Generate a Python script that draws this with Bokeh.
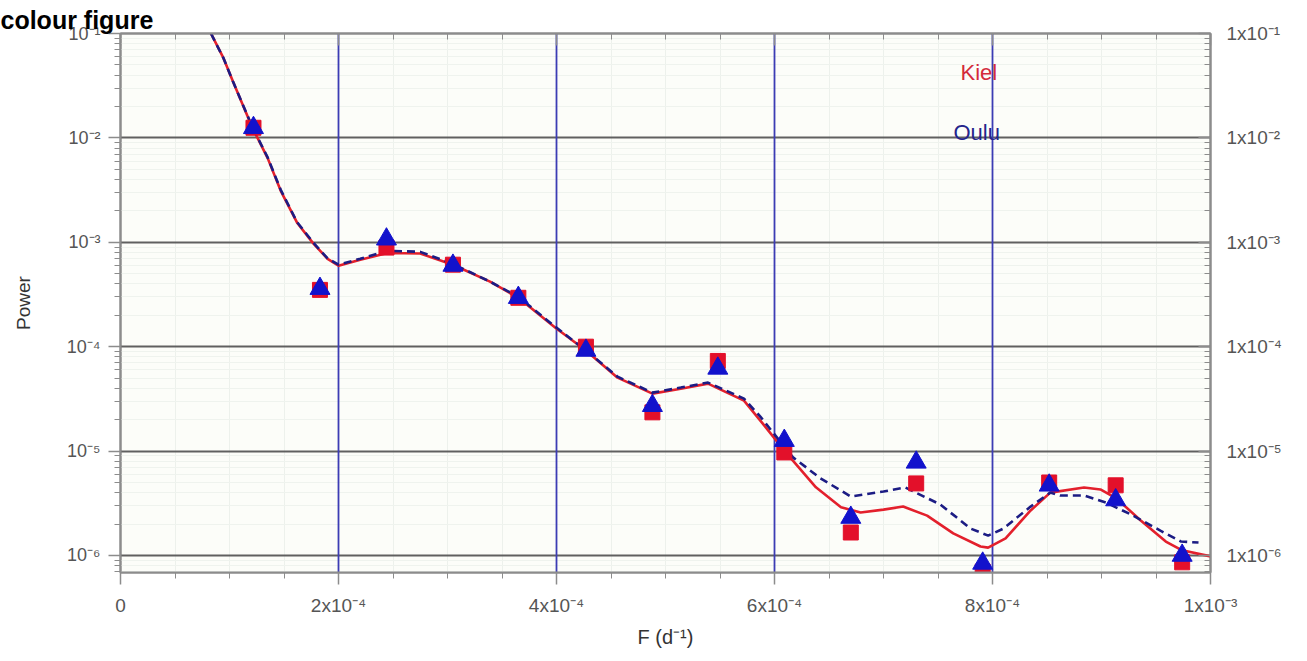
from bokeh.plotting import figure
from bokeh.models import (LogAxis, LinearAxis, FixedTicker, Label, Range1d,
                          ColumnDataSource, Grid)
from bokeh.embed import file_html
from bokeh.resources import INLINE

# ---------------- data ----------------
freq = [1.22e-4, 1.83e-4, 2.44e-4, 3.05e-4, 3.65e-4, 4.27e-4, 4.88e-4, 5.48e-4,
        6.09e-4, 6.70e-4, 7.30e-4, 7.91e-4, 8.52e-4, 9.13e-4, 9.74e-4]
kiel_pts = [1.25e-2, 3.5e-4, 8.9e-4, 6.1e-4, 2.94e-4, 1.0e-4, 2.35e-5, 7.3e-5,
            9.7e-6, 1.66e-6, 4.9e-6, 7.0e-7, 5.0e-6, 4.7e-6, 8.6e-7]
oulu_pts = [1.25e-2, 3.6e-4, 1.07e-3, 6.0e-4, 2.95e-4, 9.2e-5, 2.72e-5, 6.2e-5,
            1.26e-5, 2.31e-6, 7.8e-6, 8.4e-7, 4.7e-6, 3.4e-6, 1.0e-6]

kiel_fx = [0.83e-4, 0.945e-4, 1.03e-4, 1.21e-4, 1.35e-4, 1.47e-4, 1.62e-4,
           1.77e-4, 1.90e-4, 2.00e-4, 2.20e-4, 2.45e-4, 2.75e-4, 3.05e-4,
           3.39e-4, 3.65e-4, 3.99e-4, 4.27e-4, 4.56e-4, 4.88e-4, 5.14e-4,
           5.39e-4, 5.72e-4, 5.87e-4, 6.09e-4, 6.38e-4, 6.61e-4, 6.79e-4,
           7.00e-4, 7.18e-4, 7.40e-4, 7.64e-4, 7.89e-4, 7.96e-4, 8.12e-4,
           8.35e-4, 8.53e-4, 8.84e-4, 8.99e-4, 9.14e-4, 9.36e-4, 9.59e-4,
           9.74e-4, 1.0e-3]
kiel_fit = [0.1, 5.8e-2, 3.5e-2, 1.25e-2, 6.4e-3, 3.11e-3, 1.54e-3,
            9.7e-4, 6.95e-4, 5.96e-4, 6.8e-4, 7.9e-4, 7.8e-4, 6.1e-4,
            4.2e-4, 2.94e-4, 1.52e-4, 9.2e-5, 5.05e-5, 3.55e-5, 3.96e-5,
            4.43e-5, 3.04e-5, 1.96e-5, 1.01e-5, 4.5e-6, 2.9e-6, 2.58e-6,
            2.75e-6, 2.94e-6, 2.41e-6, 1.63e-6, 1.22e-6, 1.19e-6, 1.46e-6,
            2.7e-6, 4.0e-6, 4.48e-6, 4.29e-6, 3.5e-6, 2.16e-6, 1.36e-6,
            1.12e-6, 9.8e-7]

oulu_fx = [0.83e-4, 0.945e-4, 1.03e-4, 1.21e-4, 1.35e-4, 1.47e-4, 1.62e-4,
           1.77e-4, 1.90e-4, 2.00e-4, 2.20e-4, 2.45e-4, 2.75e-4, 3.05e-4,
           3.39e-4, 3.65e-4, 3.99e-4, 4.27e-4, 4.56e-4, 4.88e-4, 5.14e-4,
           5.39e-4, 5.72e-4, 5.87e-4, 6.09e-4, 6.17e-4, 6.42e-4, 6.70e-4,
           7.00e-4, 7.20e-4, 7.52e-4, 7.80e-4, 7.96e-4, 8.10e-4, 8.35e-4,
           8.53e-4, 8.62e-4, 8.84e-4, 9.04e-4, 9.27e-4, 9.54e-4, 9.73e-4,
           9.89e-4]
oulu_fit = [0.1, 5.8e-2, 3.5e-2, 1.27e-2, 6.5e-3, 3.18e-3, 1.56e-3,
            9.9e-4, 7.0e-4, 6.1e-4, 6.95e-4, 8.3e-4, 8.1e-4, 6.2e-4,
            4.2e-4, 3.0e-4, 1.55e-4, 9.2e-5, 5.16e-5, 3.63e-5, 4.06e-5,
            4.53e-5, 3.18e-5, 2.14e-5, 1.1e-5, 8.7e-6, 5.5e-6, 3.67e-6,
            4.1e-6, 4.48e-6, 3.08e-6, 1.81e-6, 1.55e-6, 1.81e-6, 2.94e-6,
            4.0e-6, 3.75e-6, 3.75e-6, 3.21e-6, 2.47e-6, 1.73e-6, 1.36e-6,
            1.33e-6]

x_ticks = [0, 2e-4, 4e-4, 6e-4, 8e-4, 1e-3]
x_labels = ["0", "2x10\u207b\u2074", "4x10\u207b\u2074", "6x10\u207b\u2074",
            "8x10\u207b\u2074", "1x10\u207b\u00b3"]
y_ticks = [1e-6, 1e-5, 1e-4, 1e-3, 1e-2, 1e-1]
y_left_labels = ["10\u207b\u2076", "10\u207b\u2075", "10\u207b\u2074",
                 "10\u207b\u00b3", "10\u207b\u00b2", "10\u207b\u00b9"]
y_right_labels = ["1x10\u207b\u2076", "1x10\u207b\u2075", "1x10\u207b\u2074",
                  "1x10\u207b\u00b3", "1x10\u207b\u00b2", "1x10\u207b\u00b9"]

# ---------------- figure ----------------
FONT = "Liberation Sans"
p = figure(width=1300, height=655, output_backend="svg", toolbar_location=None,
           title="colour figure",
           x_range=Range1d(0, 1e-3), y_range=Range1d(6.87e-7, 0.1),
           y_axis_type="log",
           min_border_left=120, min_border_right=90, min_border_top=33,
           min_border_bottom=83)
p.background_fill_color = "#fcfdf9"
p.border_fill_color = "white"
p.outline_line_color = "#8c8c8c"
p.outline_line_width = 2

p.title.align = "left"
p.title.offset = -120
p.title.standoff = 0
p.title.text_font = FONT
p.title.text_font_size = "25px"
p.title.text_font_style = "bold"
p.title.text_color = "black"
p.title.text_line_height = 0.7

x_minor = [i * 5e-5 for i in range(21)]
y_minor = [m * 10.0 ** e for e in range(-7, -1) for m in range(2, 10)]
xt = FixedTicker(ticks=x_ticks, minor_ticks=x_minor)
yt = FixedTicker(ticks=y_ticks, minor_ticks=y_minor)

# grids: faint minor grids first, then the major lines on top
gx_minor = Grid(dimension=0, ticker=xt, grid_line_color=None,
                minor_grid_line_color="#edf1ec", minor_grid_line_width=1)
gy_minor = Grid(dimension=1, ticker=yt, grid_line_color=None,
                minor_grid_line_color="#eff3ee", minor_grid_line_width=1)
p.xgrid.ticker = xt
p.xgrid.grid_line_color = "#3c3cb4"
p.xgrid.grid_line_width = 1.8
p.xgrid.minor_grid_line_color = None
p.ygrid.ticker = yt
p.ygrid.grid_line_color = "#606060"
p.ygrid.grid_line_width = 2
p.ygrid.minor_grid_line_color = None
xg, yg = p.xgrid[0], p.ygrid[0]
p.center = [gx_minor, gy_minor, yg, xg] + [r for r in p.center
                                           if r not in (xg, yg)]

AX = "#8c8c8c"
LBL = "#555555"

def style(ax, inward):
    ax.axis_line_color = AX
    ax.axis_line_width = 2
    ax.major_tick_line_color = AX
    ax.minor_tick_line_color = AX
    ax.major_tick_line_width = 1.5
    if inward:
        ax.major_tick_in, ax.major_tick_out = 12, 0
        ax.minor_tick_in, ax.minor_tick_out = 6, 0
    else:
        ax.major_tick_in, ax.major_tick_out = 0, 12
        ax.minor_tick_in, ax.minor_tick_out = 0, 6
    ax.major_label_text_color = LBL
    ax.major_label_text_font = FONT

# bottom x axis
xa = p.xaxis[0]
xa.ticker = xt
xa.major_label_overrides = dict(zip(x_ticks, x_labels))
style(xa, False)
xa.major_label_text_font_size = "19px"
xa.major_label_standoff = 10
xa.axis_label = "F (d\u207b\u00b9)"
xa.axis_label_text_font = FONT
xa.axis_label_text_font_style = "normal"
xa.axis_label_text_font_size = "20px"
xa.axis_label_text_color = "#333333"
xa.axis_label_standoff = 7

# left y axis
ya = p.yaxis[0]
ya.ticker = yt
ya.major_label_overrides = dict(zip(y_ticks, y_left_labels))
style(ya, False)
ya.major_label_text_font_size = "18px"
ya.major_label_standoff = 8
ya.axis_label = "Power"
ya.axis_label_text_font = FONT
ya.axis_label_text_font_style = "normal"
ya.axis_label_text_font_size = "19px"
ya.axis_label_text_color = "#333333"
ya.axis_label_standoff = 30

# right y axis
ra = LogAxis(ticker=yt, major_label_overrides=dict(zip(y_ticks, y_right_labels)))
style(ra, True)
ra.major_label_text_font_size = "19px"
ra.major_label_standoff = 16
p.add_layout(ra, "right")

# top x axis (ticks only)
ta = LinearAxis(ticker=xt, major_label_overrides={t: "" for t in x_ticks})
style(ta, True)
ta.major_label_text_font_size = "0px"
ta.major_label_standoff = 0
p.add_layout(ta, "above")

# ---------------- data glyphs ----------------
kfit = ColumnDataSource(dict(x=kiel_fx, y=kiel_fit))
ofit = ColumnDataSource(dict(x=oulu_fx, y=oulu_fit))
kp = ColumnDataSource(dict(x=freq, y=kiel_pts))
op = ColumnDataSource(dict(x=freq, y=oulu_pts))

p.line("x", "y", source=kfit, line_color="#e3202c", line_width=2.6)
p.line("x", "y", source=ofit, line_color="#1c1c84", line_width=2.6,
       line_dash="8 5")
p.scatter("x", "y", source=kp, marker="square", size=15,
          fill_color="#e3102a", line_color="#e3102a")
p.scatter("x", "y", source=op, marker="triangle", size=20,
          fill_color="#1212cc", line_color="#1212cc")

# ---------------- texts ----------------
p.add_layout(Label(x=840, y=500, x_units="screen", y_units="screen",
                   text="Kiel", text_color="#d42a3c", text_font=FONT,
                   text_font_size="22px", text_baseline="middle"))
p.add_layout(Label(x=833, y=440, x_units="screen", y_units="screen",
                   text="Oulu", text_color="#24248c", text_font=FONT,
                   text_font_size="22px", text_baseline="middle"))

open("out.html", "w").write(file_html(p, INLINE))
